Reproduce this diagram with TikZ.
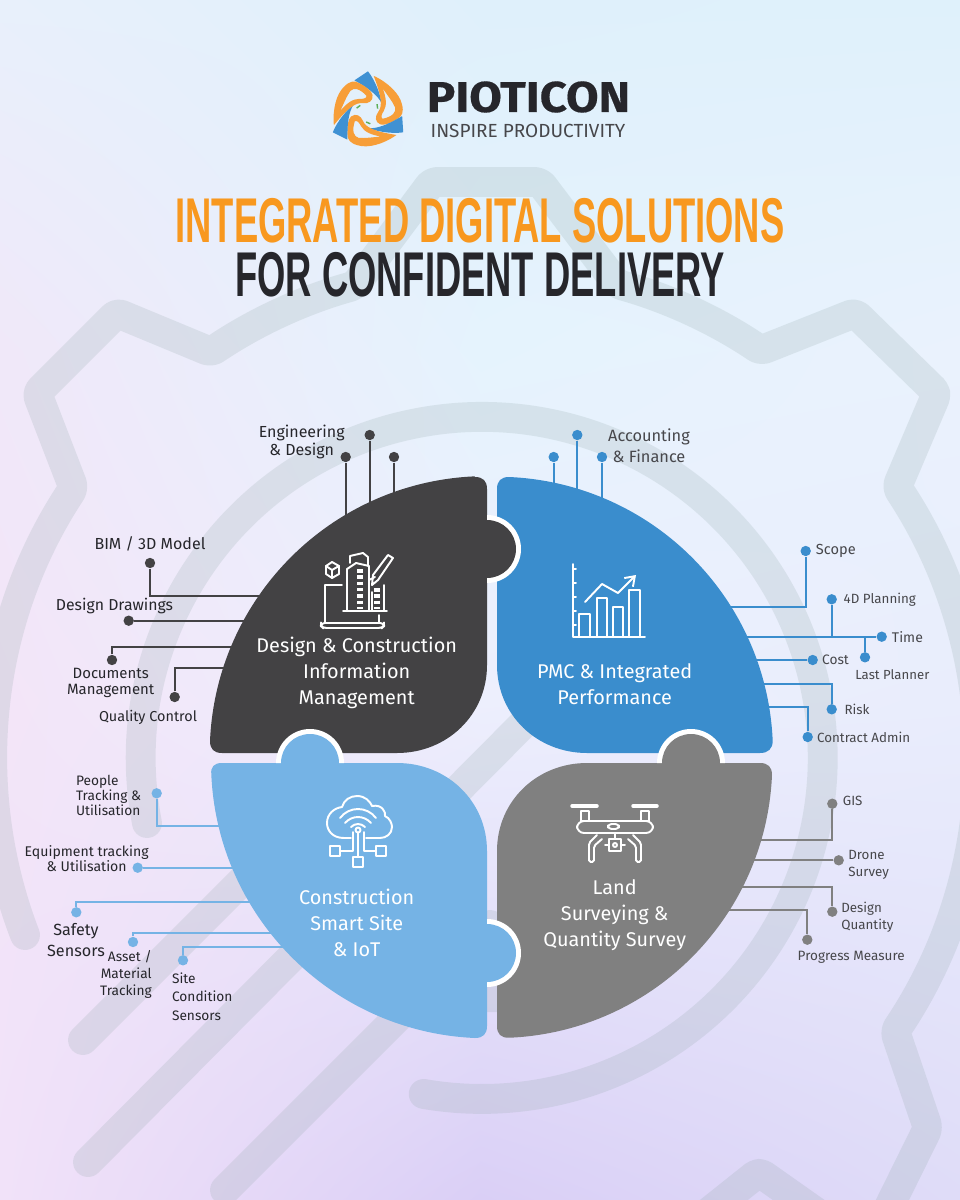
\documentclass[tikz,border=0pt]{standalone}
\usepackage{xcolor}
\usepackage{fontspec}
\usepackage{tikz}
\usetikzlibrary{positioning, shadings, arrows.meta}
\setmainfont{Fira Sans}
\newfontfamily\titlefont[FakeStretch=0.575]{Liberation Sans Bold}
\newfontfamily\brandfont[FakeStretch=1.1, FakeBold=0.4]{Fira Sans Bold}
\definecolor{panelk}{HTML}{434244}
\definecolor{panelb}{HTML}{3A8DCD}
\definecolor{panelc}{HTML}{75B3E5}
\definecolor{panelg}{HTML}{808080}
\definecolor{inkdark}{HTML}{26262B}
\definecolor{logoorange}{HTML}{F79E38}
\definecolor{logoblue}{HTML}{3F91D3}
\definecolor{logogreen}{HTML}{5DAF57}
\definecolor{titleorange}{HTML}{F8981F}
\definecolor{geargrey}{HTML}{8EA5A5}
\definecolor{bga}{HTML}{E8F0FB}
\definecolor{bgb}{HTML}{DFF0FB}
\definecolor{bgc}{HTML}{DFF1FB}
\definecolor{bgd}{HTML}{F0E8F9}
\definecolor{bge}{HTML}{E5F3FD}
\definecolor{bgf}{HTML}{EAF2FD}
\definecolor{bgg}{HTML}{F3E5F8}
\definecolor{bgh}{HTML}{EDEFFD}
\definecolor{bgi}{HTML}{E9EDFC}
\definecolor{bgj}{HTML}{F1E2F9}
\definecolor{bgk}{HTML}{DACFF6}
\definecolor{bgl}{HTML}{DFDCF8}
\tikzstyle{gearline} = [draw=geargrey, line width=17pt, line cap=round, line join=round]
\tikzstyle{wire} = [line width=1.2pt]
\tikzstyle{dot} = [circle, inner sep=0pt, minimum size=5.9pt]
\tikzstyle{tag} = [font=\fontsize{8.3}{10}\selectfont, align=center, inner sep=0pt, text=inkdark]
\tikzstyle{paneltext} = [font=\fontsize{11.3}{14.8}\selectfont, align=center, inner sep=0pt, text=white]
\tikzstyle{iconline} = [draw=white, line width=1.1pt, line cap=round, line join=round]

\begin{document}
\begin{tikzpicture}[x=0.02cm, y=-0.02cm]
\useasboundingbox (0,0) rectangle (960,1200);
% background
\shade[shading=bilinear interpolation, upper left=bga, upper right=bgb, lower left=bgd, lower right=bge] (0,0) rectangle (480.5,350.5);
\shade[shading=bilinear interpolation, upper left=bgb, upper right=bgc, lower left=bge, lower right=bgf] (480,0) rectangle (960,350.5);
\shade[shading=bilinear interpolation, upper left=bgd, upper right=bge, lower left=bgg, lower right=bgh] (0,350) rectangle (480.5,700.5);
\shade[shading=bilinear interpolation, upper left=bge, upper right=bgf, lower left=bgh, lower right=bgi] (480,350) rectangle (960,700.5);
\shade[shading=bilinear interpolation, upper left=bgg, upper right=bgh, lower left=bgj, lower right=bgk] (0,700) rectangle (480.5,1200);
\shade[shading=bilinear interpolation, upper left=bgh, upper right=bgi, lower left=bgk, lower right=bgl] (480,700) rectangle (960,1200);
% gear behind everything
\begin{scope}[transparency group, opacity=0.2]
\draw[gearline, rounded corners=3pt] (25,935) arc[start angle=159, end angle=213.4, radius=492] -- (37,393) -- (117,313) -- (211,352) arc[start angle=235.9, end angle=254.5, radius=490] -- (432,182) -- (540,182) -- (617,284) arc[start angle=285.5, end angle=304.1, radius=490] -- (855,313) -- (937,393) -- (897,487) arc[start angle=-33.4, end angle=33.8, radius=492] -- (928,1128) -- (885,1215);
\draw[gearline, rounded corners=3pt] (705,1215) -- (759,1172) -- (820,1215);
\draw[gearline] (147,823) arc[start angle=169, end angle=459.8, radius=341];
\draw[gearline] (83,1040) -- (300,823);
\draw[gearline] (88,1162) -- (560,687);
\draw[gearline] (225,1190) -- (490,925);
\fill[geargrey] (480,985) rectangle (500,1012);
\end{scope}
% logo
\begin{scope}[shift={(368,112)}, scale=1.13]
\foreach \a in {0,120,240} {
\begin{scope}[rotate=-\a]
\fill[logoblue] (-12,-28) -- (0,-36) .. controls (7,-27) and (11,-15) .. (12,-8) .. controls (8,-15) and (2,-20) .. (-12,-28) -- cycle;
\fill[logoorange, even odd rule] (5,-32) .. controls (18,-26) and (28,-16) .. (30,-7) .. controls (32,0) and (30,4) .. (26,6) .. controls (20,10) and (14,12) .. (11,11) .. controls (6,9) and (6,4) .. (9,0) .. controls (13,-5) and (12,-14) .. (5,-32) -- cycle (13,-21) .. controls (17,-15) and (22,-9) .. (24,-4) .. controls (25,0) and (22,4) .. (13,6) .. controls (11,5) and (12,2) .. (14,-1) .. controls (17,-6) and (16,-13) .. (13,-21) -- cycle;
\draw[logogreen, line width=0.8pt] (8,-7) -- (8.5,-3);
\end{scope}
}
\end{scope}
\node[font=\fontsize{24.5}{24}\brandfont, inner sep=0pt, text=inkdark] (brand) at (528.5,97) {PIOTICON};
\node[font=\fontsize{10.8}{12}\selectfont, inner sep=0pt, text=inkdark!85] (motto) at (528,130.5) {INSPIRE PRODUCTIVITY};
% title
\node[font=\fontsize{36}{36}\titlefont, inner sep=0pt, text depth=0pt, text height=25.6pt, anchor=south, text=titleorange] (title) at (480,243) {INTEGRATED DIGITAL SOLUTIONS};
\node[font=\fontsize{36}{36}\titlefont, inner sep=0pt, text depth=0pt, text height=25.6pt, anchor=south, text=inkdark] (subtitle) at (480,297) {FOR CONFIDENT DELIVERY};

% dark panel wires
\node[dot, fill=panelk] (engleft) at (345.7,457) {};
\node[dot, fill=panelk] (engmid) at (369.7,435) {};
\node[dot, fill=panelk] (engright) at (394,457) {};
\node[dot, fill=panelk] (bim) at (150,563) {};
\node[dot, fill=panelk] (drawings) at (128.7,620.7) {};
\node[dot, fill=panelk] (documents) at (112,660) {};
\node[dot, fill=panelk] (quality) at (174.7,697) {};
\coordinate (engleftend) at (345.7,520);
\coordinate (engmidend) at (369.7,510);
\coordinate (engrightend) at (394,500);
\coordinate (bimend) at (262,596);
\coordinate (drawingsend) at (250,620.7);
\coordinate (documentsend) at (238,647.3);
\coordinate (qualityend) at (230,668);
\draw[wire, panelk] (engleft) -- (engleftend);
\draw[wire, panelk] (engmid) -- (engmidend);
\draw[wire, panelk] (engright) -- (engrightend);
\draw[wire, panelk] (bim) |- (bimend);
\draw[wire, panelk] (drawings) -- (drawingsend);
\draw[wire, panelk] (documents) |- (documentsend);
\draw[wire, panelk] (quality) |- (qualityend);
\node[tag, font=\fontsize{9.1}{10.2}\selectfont] (englabel) at (301.7,442) {Engineering\\\& Design};
\node[tag, font=\fontsize{9.1}{10}\selectfont, above=3.5pt of bim] (bimlabel) {BIM / 3D Model};
\node[tag, font=\fontsize{9}{10}\selectfont] (drawingslabel) at (114.5,606) {Design Drawings};
\node[tag, font=\fontsize{8.5}{9}\selectfont] (documentslabel) at (110.7,683) {Documents\\Management};
\node[tag, font=\fontsize{8.2}{9}\selectfont] (qualitylabel) at (148,717.7) {Quality Control};

% blue panel wires
\node[dot, fill=panelb] (accleft) at (553.7,457) {};
\node[dot, fill=panelb] (accmid) at (577.3,435) {};
\node[dot, fill=panelb] (accright) at (602,457) {};
\node[dot, fill=panelb] (scope) at (805.7,551) {};
\node[dot, fill=panelb] (planning) at (831.7,599.3) {};
\node[dot, fill=panelb] (time) at (881.7,636.7) {};
\node[dot, fill=panelb] (lastplanner) at (865,657.3) {};
\node[dot, fill=panelb] (cost) at (812.7,660) {};
\node[dot, fill=panelb] (risk) at (831.7,709.3) {};
\node[dot, fill=panelb] (contract) at (807.7,737) {};
\coordinate (accleftend) at (553.7,495);
\coordinate (accmidend) at (577.3,500);
\coordinate (accrightend) at (602,505);
\coordinate (scopeend) at (725,606.7);
\coordinate (timeend) at (742,636.7);
\coordinate (costend) at (750,660);
\coordinate (riskend) at (757,684);
\coordinate (contractend) at (762,706.7);
\draw[wire, panelb] (accleft) -- (accleftend);
\draw[wire, panelb] (accmid) -- (accmidend);
\draw[wire, panelb] (accright) -- (accrightend);
\draw[wire, panelb] (scope) |- (scopeend);
\draw[wire, panelb] (time) -- (timeend);
\draw[wire, panelb] (planning) -- (planning |- time);
\draw[wire, panelb] (lastplanner) -- (lastplanner |- time);
\draw[wire, panelb] (cost) -- (costend);
\draw[wire, panelb] (risk) |- (riskend);
\draw[wire, panelb] (contract) |- (contractend);
\node[tag, font=\fontsize{9.3}{11.9}\selectfont, text=inkdark!85] (acclabel) at (649,445.5) {Accounting\\\& Finance};
\node[tag, text=inkdark!85, right=2.5pt of scope] (scopelabel) {Scope};
\node[tag, text=inkdark!85, font=\fontsize{7.6}{9}\selectfont, right=3.5pt of planning] (planninglabel) {4D Planning};
\node[tag, text=inkdark!85, font=\fontsize{8}{9}\selectfont, right=2.5pt of time] (timelabel) {Time};
\node[tag, text=inkdark!85, font=\fontsize{7.5}{9}\selectfont] (lastplannerlabel) at (892.3,674.3) {Last Planner};
\node[tag, text=inkdark!85, font=\fontsize{7.8}{9}\selectfont, right=2pt of cost] (costlabel) {Cost};
\node[tag, text=inkdark!85, font=\fontsize{7.6}{9}\selectfont, right=4pt of risk] (risklabel) {Risk};
\node[tag, text=inkdark!85, font=\fontsize{7.6}{9}\selectfont, right=2pt of contract] (contractlabel) {Contract Admin};

% light blue panel wires
\node[dot, fill=panelc] (people) at (156.7,793.3) {};
\node[dot, fill=panelc] (equipment) at (137.7,867.7) {};
\node[dot, fill=panelc] (safety) at (76.3,912.3) {};
\node[dot, fill=panelc] (asset) at (133,942) {};
\node[dot, fill=panelc] (site) at (183,960.3) {};
\coordinate (peopleend) at (226,826);
\coordinate (equipmentend) at (235,867.7);
\coordinate (safetyend) at (252,902.3);
\coordinate (assetend) at (273,932.7);
\coordinate (siteend) at (285,947.3);
\draw[wire, panelc] (people) |- (peopleend);
\draw[wire, panelc] (equipment) -- (equipmentend);
\draw[wire, panelc] (safety) |- (safetyend);
\draw[wire, panelc] (asset) |- (assetend);
\draw[wire, panelc] (site) |- (siteend);
\node[tag, font=\fontsize{7.8}{8.5}\selectfont, align=left, anchor=west] (peoplelabel) at (75.7,795) {People\\Tracking \&\\Utilisation};
\node[tag, font=\fontsize{8}{8.7}\selectfont] (equipmentlabel) at (86.7,858.7) {Equipment tracking\\\& Utilisation};
\node[tag, font=\fontsize{9.2}{11.9}\selectfont] (safetylabel) at (76,940) {Safety\\Sensors};
\node[tag, font=\fontsize{7.8}{9.7}\selectfont, align=right, anchor=east] (assetlabel) at (152,974.5) {Asset /\\Material\\Tracking};
\node[tag, font=\fontsize{7.8}{10.4}\selectfont, align=left, anchor=west] (sitelabel) at (171.7,996.7) {Site\\Condition\\Sensors};

% grey panel wires
\node[dot, fill=panelg] (gis) at (832.3,803.7) {};
\node[dot, fill=panelg] (drone) at (838.7,860.3) {};
\node[dot, fill=panelg] (quantity) at (832.3,911.7) {};
\node[dot, fill=panelg] (progress) at (807.3,939.7) {};
\coordinate (gisend) at (755,839.7);
\coordinate (droneend) at (750,860.3);
\coordinate (quantityend) at (738,887);
\coordinate (progressend) at (727,909.7);
\draw[wire, panelg] (gis) |- (gisend);
\draw[wire, panelg] (drone) -- (droneend);
\draw[wire, panelg] (quantity) |- (quantityend);
\draw[wire, panelg] (progress) |- (progressend);
\node[tag, text=inkdark!85, font=\fontsize{7.6}{9}\selectfont, anchor=west] (gislabel) at (842.5,801.3) {GIS};
\node[tag, text=inkdark!85, font=\fontsize{7.6}{9.6}\selectfont, align=left, anchor=west] (dronelabel) at (848,864.5) {Drone\\Survey};
\node[tag, text=inkdark!85, font=\fontsize{7.6}{9.6}\selectfont, align=left, anchor=west] (quantitylabel) at (841,917) {Design\\Quantity};
\node[tag, text=inkdark!85, font=\fontsize{7.7}{9}\selectfont, below=3pt of progress, xshift=25pt] (progresslabel) {Progress Measure};

% four panels
\fill[panelk] (475,477) .. controls (483,477) and (487,481) .. (487,489) -- (487,665) .. controls (487,715) and (447,753) .. (397,753) -- (222,753) .. controls (214,753) and (210,749) .. (210,741) arc[start angle=182.5, end angle=267.5, radius=277] -- cycle;
\fill[panelb] (497,489) .. controls (497,481) and (501,477) .. (509,477) arc[start angle=272.5, end angle=357.5, radius=276] .. controls (772.7,749) and (768,753) .. (760,753) -- (587,753) .. controls (537,753) and (497,715) .. (497,665) -- cycle;
\fill[panelc] (222,763) -- (397,763) .. controls (447,763) and (487,801) .. (487,851) -- (487,1026) .. controls (487,1034) and (483,1038) .. (475,1038) arc[start angle=92.5, end angle=177.5, radius=276] .. controls (210.5,767) and (214,763) .. (222,763) -- cycle;
\fill[panelg] (497,851) .. controls (497,801) and (537,763) .. (587,763) -- (760,763) .. controls (768,763) and (772,767) .. (772,775) arc[start angle=2.5, end angle=87.5, radius=275] .. controls (501,1038) and (497,1034) .. (497,1026) -- cycle;
% tabs with white rims
\fill[white] (487,515) arc[start angle=-90, end angle=90, radius=34] -- cycle;
\fill[panelk] (487,549) circle[radius=29];
\fill[white] (276,763) arc[start angle=180, end angle=360, radius=34] -- cycle;
\fill[panelc] (310,763) circle[radius=29];
\fill[white] (657,763) arc[start angle=180, end angle=360, radius=34] -- cycle;
\fill[panelg] (691,763) circle[radius=29];
\fill[white] (487,919) arc[start angle=-90, end angle=90, radius=34] -- cycle;
\fill[panelc] (487,953) circle[radius=29];

% panel titles
\node[paneltext] (designtext) at (356.7,673) {Design \& Construction\\Information\\Management};
\node[paneltext] (pmctext) at (614.7,683.7) {PMC \& Integrated\\Performance};
\node[paneltext] (sitetext) at (356.7,923) {Construction\\Smart Site\\\& IoT};
\node[paneltext] (landtext) at (614.7,915.5) {Land\\Surveying \&\\Quantity Survey};

% design icon
\draw[iconline] (342,585) -- (325,585) -- (325,623);
\draw[iconline] (379,615) -- (379,623);
\draw[iconline, rounded corners=2pt] (321,623) -- (384,623) -- (384,626) -- (382,628) -- (323,628) -- (321,626) -- cycle;
\draw[iconline] (343,611) -- (387,611);
\draw[iconline] (347,611) -- (347,569) -- (356,563) -- (369,566) -- (369,611);
\draw[iconline] (350,563) -- (350,556) -- (363,553) -- (368,557) -- (368,566);
\draw[iconline] (372,611) -- (372,592) (384,585) -- (384,611);
\draw[draw=white, line width=3.5pt, dash pattern=on 2pt off 1.6pt] (360,569) -- (360,609);
\draw[draw=white, line width=3.5pt, dash pattern=on 2pt off 1.6pt] (377,588) -- (377,609);
\draw[iconline] (372,585) -- (373,575) -- (388,555) -- (393,558) -- (378,580) -- cycle;
\draw[iconline] (369,580) -- (375,577);
\draw[iconline] (332,562) -- (339,566) -- (339,574) -- (332,578) -- (326,574) -- (326,566) -- cycle;
\draw[iconline] (326,566) -- (332,570) -- (339,566) (332,570) -- (332,578);
% chart icon
\draw[iconline] (573,564) -- (573,637) -- (645,637);
\draw[iconline] (573,569) -- (576,569) (573,583) -- (576,583) (573,597) -- (576,597) (573,611) -- (576,611) (573,625) -- (576,625);
\draw[iconline] (579,637) -- (579,614) -- (590,614) -- (590,637);
\draw[iconline] (597,637) -- (597,598) -- (607,598) -- (607,637);
\draw[iconline] (613,637) -- (613,607) -- (623,607) -- (623,637);
\draw[iconline] (629,637) -- (629,590) -- (640,590) -- (640,637);
\draw[iconline, -{Straight Barb[length=5pt,width=7pt]}] (585,602) -- (602,584) -- (618,593) -- (636,575);
% cloud icon
\draw[iconline] (344,838) .. controls (332,838) and (327,830) .. (327,823) .. controls (327,814) and (334,808) .. (342,807) .. controls (344,800) and (350,796) .. (357,796) .. controls (365,796) and (370,801) .. (372,806) .. controls (382,804) and (386,812) .. (385,816) .. controls (390,818) and (392,824) .. (392,827) .. controls (392,834) and (386,838) .. (380,838) -- (366,838);
\draw[iconline] (344,838) -- (351,838);
\draw[iconline] (340,818) .. controls (349,806) and (367,806) .. (376,818);
\draw[iconline] (345,823) .. controls (352,815) and (364,815) .. (371,823);
\draw[iconline] (351,827) .. controls (355,823) and (361,823) .. (365,827);
\draw[iconline] (358,830) circle[radius=2.5];
\draw[iconline] (358,833) -- (358,857);
\draw[iconline] (353,832) -- (353,851) -- (340,851);
\draw[iconline] (364,832) -- (364,851) -- (376,851);
\draw[iconline] (330,846) rectangle (340,856);
\draw[iconline] (376,846) rectangle (386,856);
\draw[iconline] (353,857) rectangle (363,867);
% drone icon
\draw[iconline, line width=2pt] (572,806) -- (597,806);
\draw[iconline, line width=2pt] (633,806) -- (657,806);
\draw[iconline] (581,811) rectangle (589,821);
\draw[iconline] (641,811) rectangle (649,821);
\draw[iconline, rounded corners=4pt] (577,821) rectangle (653,833);
\draw[iconline, rounded corners=2pt] (608,829) rectangle (619,824);
\draw[iconline, rounded corners=1pt] (597,835) -- (589,843) -- (589,862) -- (594,862) -- (594,846) -- (602,839);
\draw[iconline, rounded corners=1pt] (633,835) -- (641,843) -- (641,862) -- (636,862) -- (636,846) -- (628,839);
\draw[iconline] (615,833) -- (615,839);
\draw[iconline] (609,839) rectangle (621,851);
\draw[iconline] (615,845) circle[radius=2];
\draw[iconline] (605,845) -- (609,845) (621,845) -- (625,845);
\end{tikzpicture}
\end{document}
